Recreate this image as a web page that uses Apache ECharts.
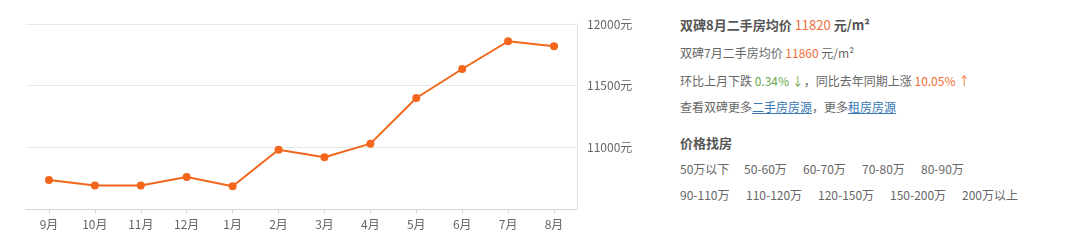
<!DOCTYPE html>
<html><head><meta charset="utf-8">
<script src="https://cdn.jsdelivr.net/npm/echarts@6/dist/echarts.min.js"></script>
<style>
html,body{margin:0;padding:0;background:#fff;width:1080px;height:248px;overflow:hidden;font-family:"Noto Sans CJK SC","Noto Sans",sans-serif;}
#chart{position:absolute;left:0;top:0;width:660px;height:248px;}
#panel{position:absolute;left:680px;top:0;width:400px;height:248px;color:#666;font-size:12px;}
.ln{position:absolute;left:0;white-space:nowrap;line-height:16px;}
.t{font-size:13px;font-weight:bold;color:#555;}
.o{color:#f26d3a;}
.g{color:#6aa84f;}
.u{color:#3a78b5;text-decoration:underline;}
.b{font-weight:bold;color:#555;font-size:13px;}
.it{position:absolute;white-space:nowrap;line-height:16px;}
</style></head>
<body>
<div id="chart"></div>
<div id="panel"></div>
<script>
const categories = ['9月','10月','11月','12月','1月','2月','3月','4月','5月','6月','7月','8月'];
const prices = [10735, 10690, 10690, 10760, 10685, 10980, 10920, 11030, 11400, 11635, 11860, 11820];
const yTicks = [10500, 11000, 11500, 12000];
const priceRangesRow1 = ['50万以下','50-60万','60-70万','70-80万','80-90万'];
const priceRangesRow2 = ['90-110万','110-120万','120-150万','150-200万','200万以上'];

const chart = echarts.init(document.getElementById('chart'));
chart.setOption({
  animation:false,
  grid:{left:26,right:83,top:24,bottom:39},
  xAxis:{type:'category',data:categories,boundaryGap:true,
    axisLine:{show:true,lineStyle:{color:'#d4d4d4',width:1}},
    axisTick:{show:true,alignWithLabel:true,length:4,lineStyle:{color:'#d4d4d4'}},
    axisLabel:{color:'#666',fontSize:12,margin:9,fontFamily:'Noto Sans CJK SC'},
    splitLine:{show:false}},
  yAxis:{type:'value',position:'right',min:yTicks[0],max:yTicks[yTicks.length-1],interval:500,
    axisLine:{show:true,lineStyle:{color:'#e0e0e0'}},
    axisTick:{show:false},
    axisLabel:{color:'#666',fontSize:12,margin:10,fontFamily:'Noto Sans CJK SC',
      formatter:function(v){return v===yTicks[0]?'':v+'元';}},
    splitLine:{show:true,lineStyle:{color:'#e8e8e8',width:1}}},
  series:[{type:'line',data:prices,symbol:'circle',symbolSize:8,
    lineStyle:{color:'#f3661c',width:2},itemStyle:{color:'#f3661c'}}]
});

const panel = document.getElementById('panel');
let html = '';
html += '<div class="ln t" style="top:17px">双碑8月二手房均价 <span class="o" style="font-weight:normal">11820</span> 元/m²</div>';
html += '<div class="ln" style="top:45px">双碑7月二手房均价 <span class="o">11860</span> 元/m²</div>';
html += '<div class="ln" style="top:73px">环比上月下跌 <span class="g">0.34% ↓</span>，同比去年同期上涨 <span class="o">10.05% ↑</span></div>';
html += '<div class="ln" style="top:99px">查看双碑更多<span class="u">二手房房源</span>，更多<span class="u">租房房源</span></div>';
html += '<div class="ln b" style="top:135px">价格找房</div>';
const x1 = [0,64,123,182,241];
const x2 = [0,66,138,210,282];
priceRangesRow1.forEach((s,i)=>{html += '<div class="it" style="left:'+x1[i]+'px;top:161px">'+s+'</div>';});
priceRangesRow2.forEach((s,i)=>{html += '<div class="it" style="left:'+x2[i]+'px;top:187px">'+s+'</div>';});
panel.innerHTML = html;
</script>
</body></html>
